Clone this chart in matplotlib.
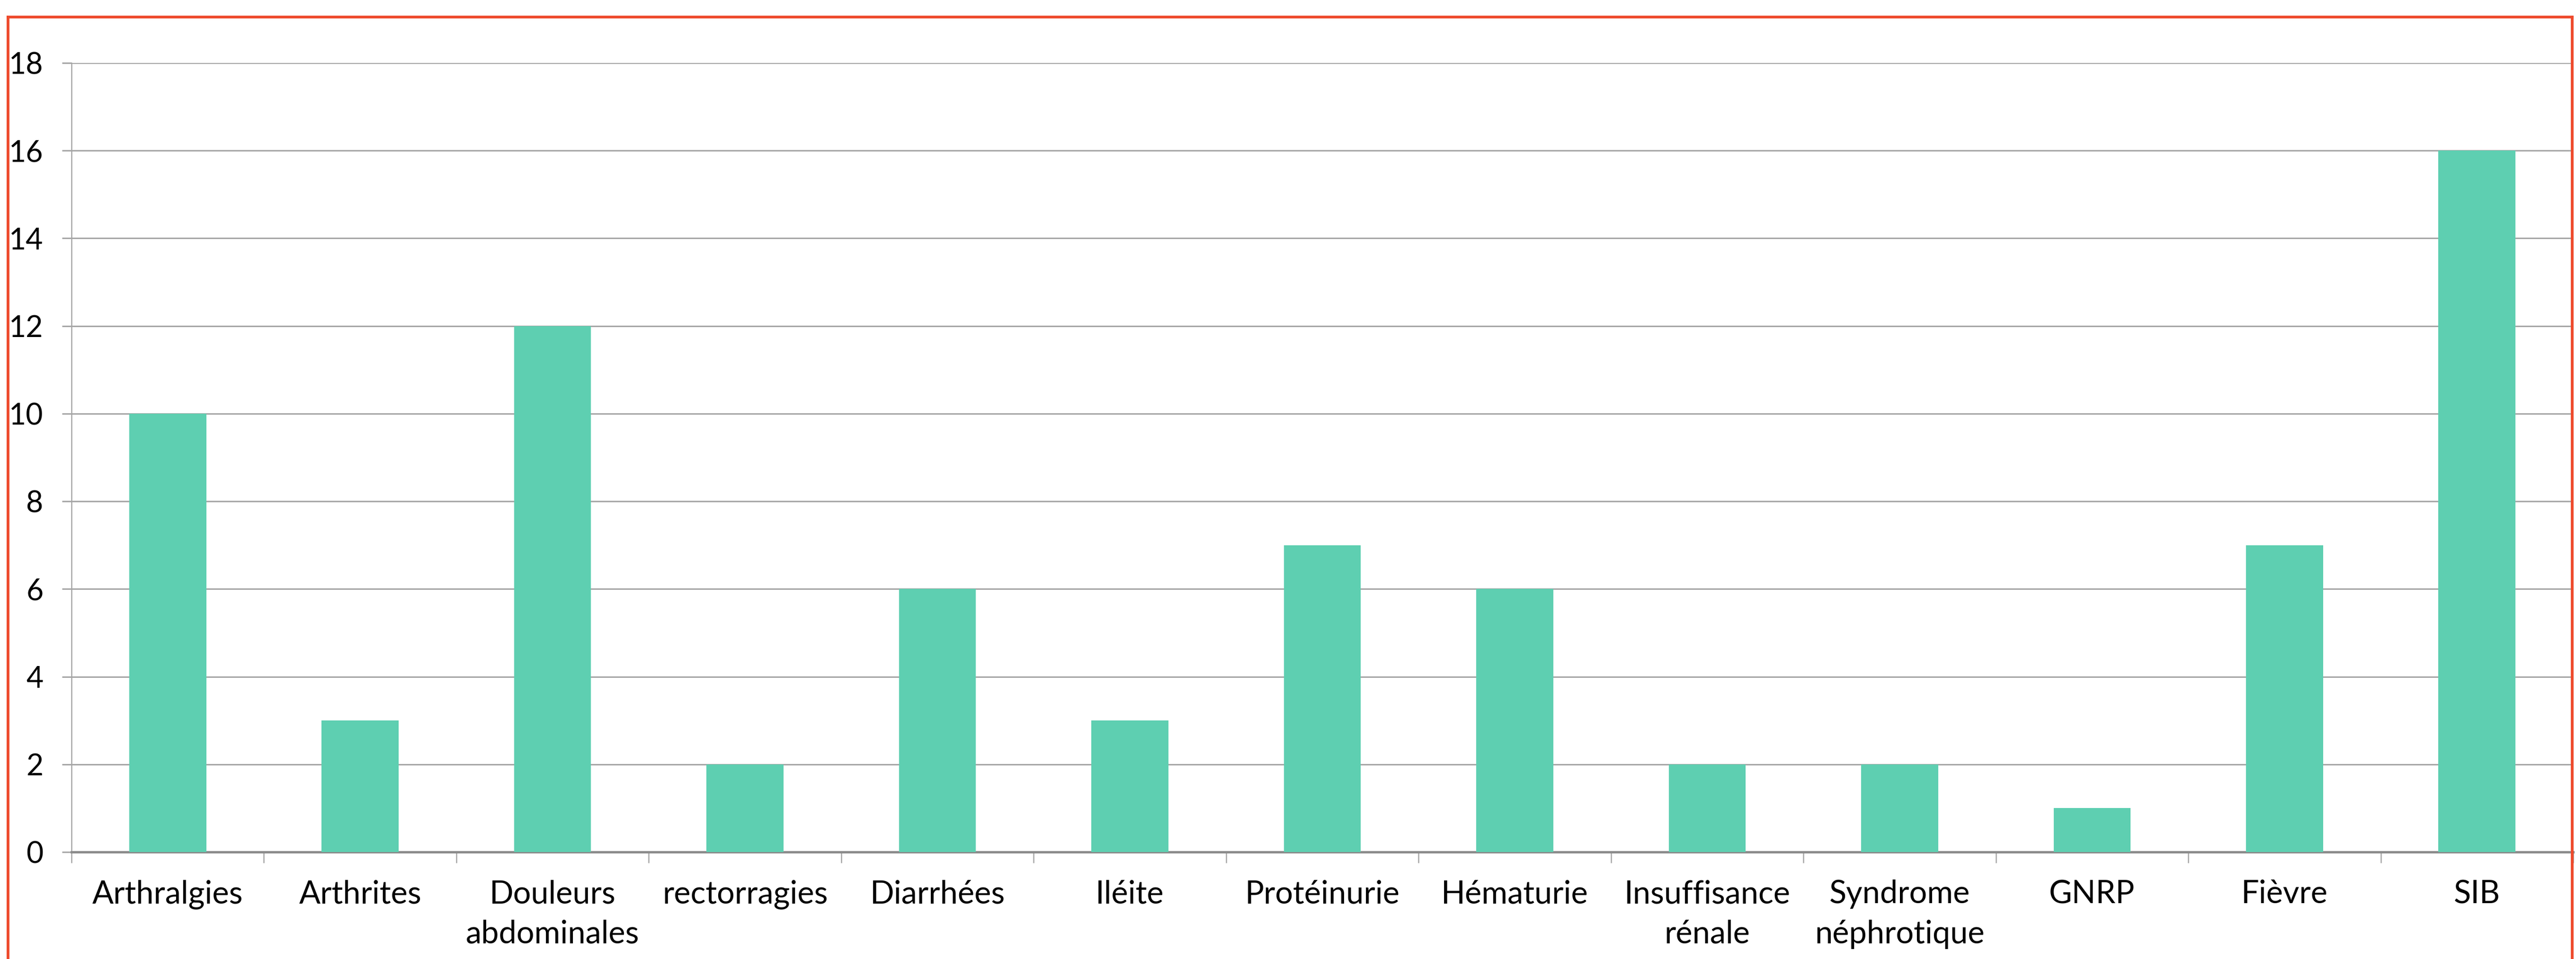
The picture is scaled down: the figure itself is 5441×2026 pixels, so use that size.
import matplotlib
matplotlib.use('Agg')
import matplotlib.pyplot as plt
from matplotlib.lines import Line2D
import numpy as np

categories = ['Arthralgies', 'Arthrites', 'Douleurs\nabdominales', 'rectorragies',
              'Diarrhées', 'Iléite', 'Protéinurie', 'Hématurie',
              'Insuffisance\nrénale', 'Syndrome\nnéphrotique', 'GNRP', 'Fièvre', 'SIB']
counts = [10, 3, 12, 2, 6, 3, 7, 6, 2, 2, 1, 7, 16]
yticks = [0, 2, 4, 6, 8, 10, 12, 14, 16, 18]

W, H, DPI = 5441, 2026, 300
plt.rcParams['font.family'] = ['Lato', 'DejaVu Sans']

fig = plt.figure(figsize=(W / DPI, H / DPI), dpi=DPI)
fig.patch.set_facecolor('white')

# plot area in pixel units of the reference
left, right, top, bottom = 151, 5435, 133, 1800
ax = fig.add_axes([left / W, 1 - bottom / H, (right - left) / W, (bottom - top) / H])

x = np.arange(len(categories))
ax.bar(x, counts, width=0.4, color='#5ECFB1', zorder=3)

ax.set_xlim(-0.5, len(categories) - 0.5)
ax.set_ylim(0, 18)
ax.set_yticks(yticks)
ax.set_yticklabels([str(v) for v in yticks], fontsize=15)
ax.yaxis.grid(True, color='#A6A6A6', linewidth=0.75, zorder=0)
ax.set_axisbelow(True)

# category boundaries carry the ticks, labels sit in the middle
ax.set_xticks(np.arange(-0.5, len(categories), 1))
ax.set_xticklabels([])
ax.set_xticks(x, minor=True)
ax.set_xticklabels(categories, minor=True, fontsize=16, linespacing=1.45)
ax.tick_params(axis='x', which='major', length=5.5, width=0.6, color='#A6A6A6')
ax.tick_params(axis='x', which='minor', length=0, pad=14)
ax.tick_params(axis='y', length=4.8, width=0.75, color='#A6A6A6', pad=9.5)

for s in ['top', 'right']:
    ax.spines[s].set_visible(False)
ax.spines['left'].set_color('#A6A6A6')
ax.spines['left'].set_linewidth(0.6)
ax.spines['bottom'].set_color('#8C8C8C')
ax.spines['bottom'].set_linewidth(1.2)

# red frame around the chart (bottom edge is cut off)
red = '#EE4A2C'
bl, br, bt = 17 / W, 5433 / W, 1 - 36 / H
for xs, ys in [([bl, bl], [-0.01, bt]), ([bl, br], [bt, bt]), ([br, br], [bt, -0.01])]:
    fig.add_artist(Line2D(xs, ys, color=red, linewidth=1.4, transform=fig.transFigure,
                          solid_capstyle='projecting'))

fig.savefig('out.png', dpi=DPI, facecolor='white')
